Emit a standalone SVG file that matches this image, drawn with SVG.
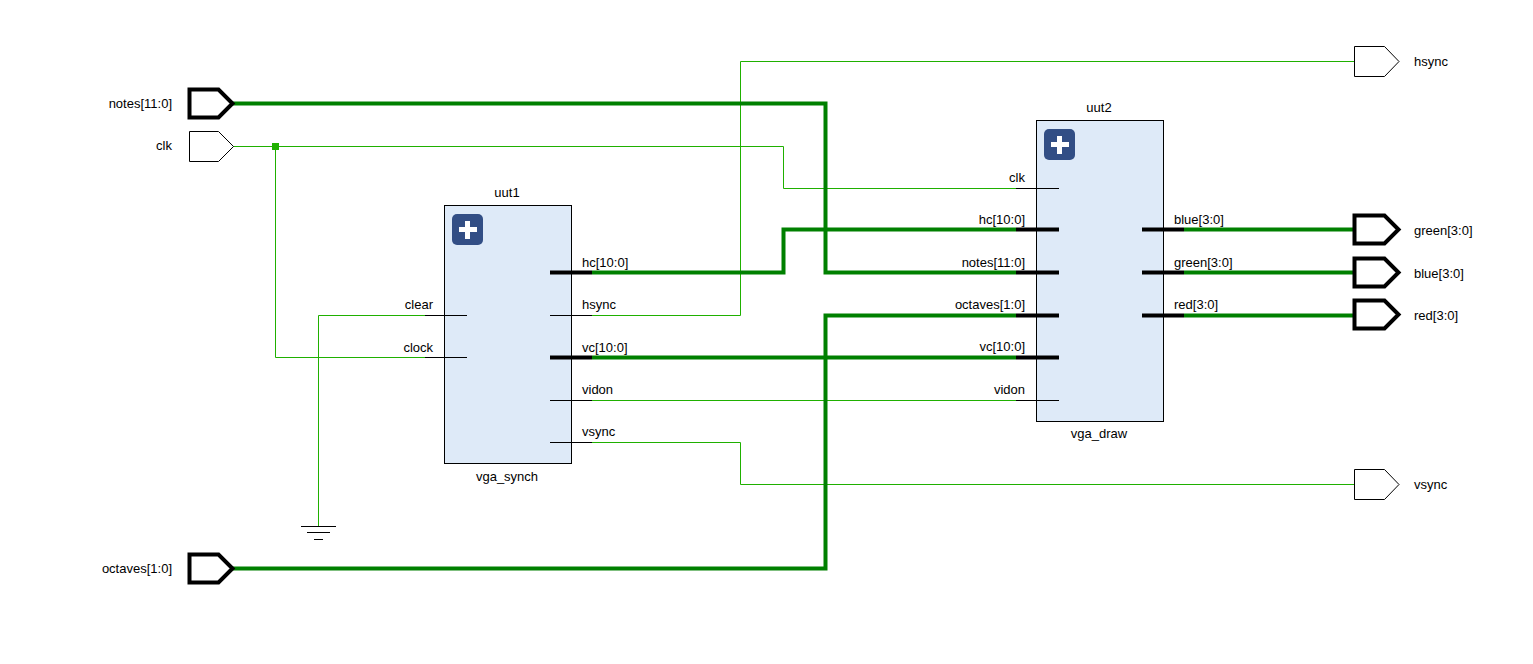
<svg xmlns="http://www.w3.org/2000/svg" width="1533" height="664" viewBox="0 0 1533 664">
<style>
text{font-family:"Liberation Sans",Arial,sans-serif;font-size:13px;fill:#000}
.e{text-anchor:end}
.m{text-anchor:middle}
.w{fill:none;stroke:#1fb000;stroke-width:1}
.b{fill:none;stroke:#008000;stroke-width:4}
.p{fill:none;stroke:#000;stroke-width:1}
.pb{fill:none;stroke:#000;stroke-width:4}
.port{fill:#fff;stroke:#000;stroke-width:1}
.portb{fill:#fff;stroke:#000;stroke-width:4;stroke-linejoin:miter}
.blk{fill:#deeaf8;stroke:#000;stroke-width:1}
.ic{fill:#324e85}
.pl{fill:#fff}
</style>
<rect width="1533" height="664" fill="#fff"/>
<g id="connectors">
<path class="w" d="M592 315.5H740.5V61.5H1354"/>
<path class="w" d="M233 146.5H783.5V188.5H1016"/>
<path class="w" d="M275.5 146.5V357.5H425"/>
<path class="w" d="M425 315.5H318.5V526"/>
<path class="w" d="M592 400.5H1016"/>
<path class="w" d="M592 442.5H740.5V484.5H1354"/>
<path class="b" d="M592 272.5H783.5V229.5H1016"/>
<path class="b" d="M233 103.5H825.5V272.5H1016"/>
<path class="b" d="M233 568.5H825.5V315.5H1016"/>
<path class="b" d="M592 357.5H1016"/>
<path class="b" d="M1184 229.5H1354"/>
<path class="b" d="M1184 272.5H1354"/>
<path class="b" d="M1184 315.5H1354"/>
<rect x="272" y="143" width="7" height="7" fill="#1fb000"/>
</g>
<g id="gnd">
<path class="p" d="M301 526.5H336M307 532.5H330M314 539.5H323"/>
</g>
<g id="notes_port"><path class="portb" d="M189.5 89.5H218.5L232.5 103.5L218.5 117.5H189.5Z"/><text class="e" x="172" y="108">notes[11:0]</text></g>
<g id="clk_port"><path class="port" d="M189.5 131.5H218.5L233.5 146.5L218.5 161.5H189.5Z"/><text class="e" x="172" y="150">clk</text></g>
<g id="octaves_port"><path class="portb" d="M189.5 554.5H218.5L232.5 568.5L218.5 582.5H189.5Z"/><text class="e" x="172" y="573">octaves[1:0]</text></g>
<g id="hsync_port"><path class="port" d="M1354.5 46.5H1384.5L1399 61.5L1384.5 76.5H1354.5Z"/><text x="1414" y="66">hsync</text></g>
<g id="vsync_port"><path class="port" d="M1354.5 469.5H1384.5L1399 484.5L1384.5 499.5H1354.5Z"/><text x="1414" y="489">vsync</text></g>
<g id="green_port"><path class="portb" d="M1354.5 215.5H1384.5L1398.5 229.5L1384.5 243.5H1354.5Z"/><text x="1414" y="235">green[3:0]</text></g>
<g id="blue_port"><path class="portb" d="M1354.5 258.5H1384.5L1398.5 272.5L1384.5 286.5H1354.5Z"/><text x="1414" y="278">blue[3:0]</text></g>
<g id="red_port"><path class="portb" d="M1354.5 300.5H1384.5L1398.5 314.5L1384.5 328.5H1354.5Z"/><text x="1414" y="320">red[3:0]</text></g>
<g id="uut1">
<rect class="blk" x="444.5" y="205.5" width="127" height="258"/>
<rect class="ic" x="452" y="214" width="31" height="31" rx="5"/>
<path class="pl" d="M465 221h5v6h7v5h-7v7h-5v-7h-6v-5h6z"/>
<path class="p" d="M425 315.5H467M425 357.5H467M550 315.5H592M550 400.5H592M550 442.5H592"/>
<path class="pb" d="M550 272.5H592M550 357.5H592"/>
<text class="m" x="507" y="197">uut1</text>
<text class="m" x="507" y="481">vga_synch</text>
<text class="e" x="433" y="309">clear</text>
<text class="e" x="433" y="352">clock</text>
<text x="582" y="267">hc[10:0]</text>
<text x="582" y="309">hsync</text>
<text x="582" y="352">vc[10:0]</text>
<text x="582" y="394">vidon</text>
<text x="582" y="436">vsync</text>
</g>
<g id="uut2">
<rect class="blk" x="1036.5" y="120.5" width="127" height="301"/>
<rect class="ic" x="1044" y="129" width="31" height="31" rx="5"/>
<path class="pl" d="M1057 136h5v6h7v5h-7v7h-5v-7h-6v-5h6z"/>
<path class="p" d="M1016 188.5H1059M1016 400.5H1059"/>
<path class="pb" d="M1016 229.5H1059M1016 272.5H1059M1016 315.5H1059M1016 357.5H1059M1142 229.5H1184M1142 272.5H1184M1142 315.5H1184"/>
<text class="m" x="1099" y="112">uut2</text>
<text class="m" x="1099" y="438">vga_draw</text>
<text class="e" x="1025" y="182">clk</text>
<text class="e" x="1025" y="224">hc[10:0]</text>
<text class="e" x="1025" y="267">notes[11:0]</text>
<text class="e" x="1025" y="309">octaves[1:0]</text>
<text class="e" x="1025" y="351">vc[10:0]</text>
<text class="e" x="1025" y="394">vidon</text>
<text x="1174" y="224">blue[3:0]</text>
<text x="1174" y="267">green[3:0]</text>
<text x="1174" y="309">red[3:0]</text>
</g>
</svg>
